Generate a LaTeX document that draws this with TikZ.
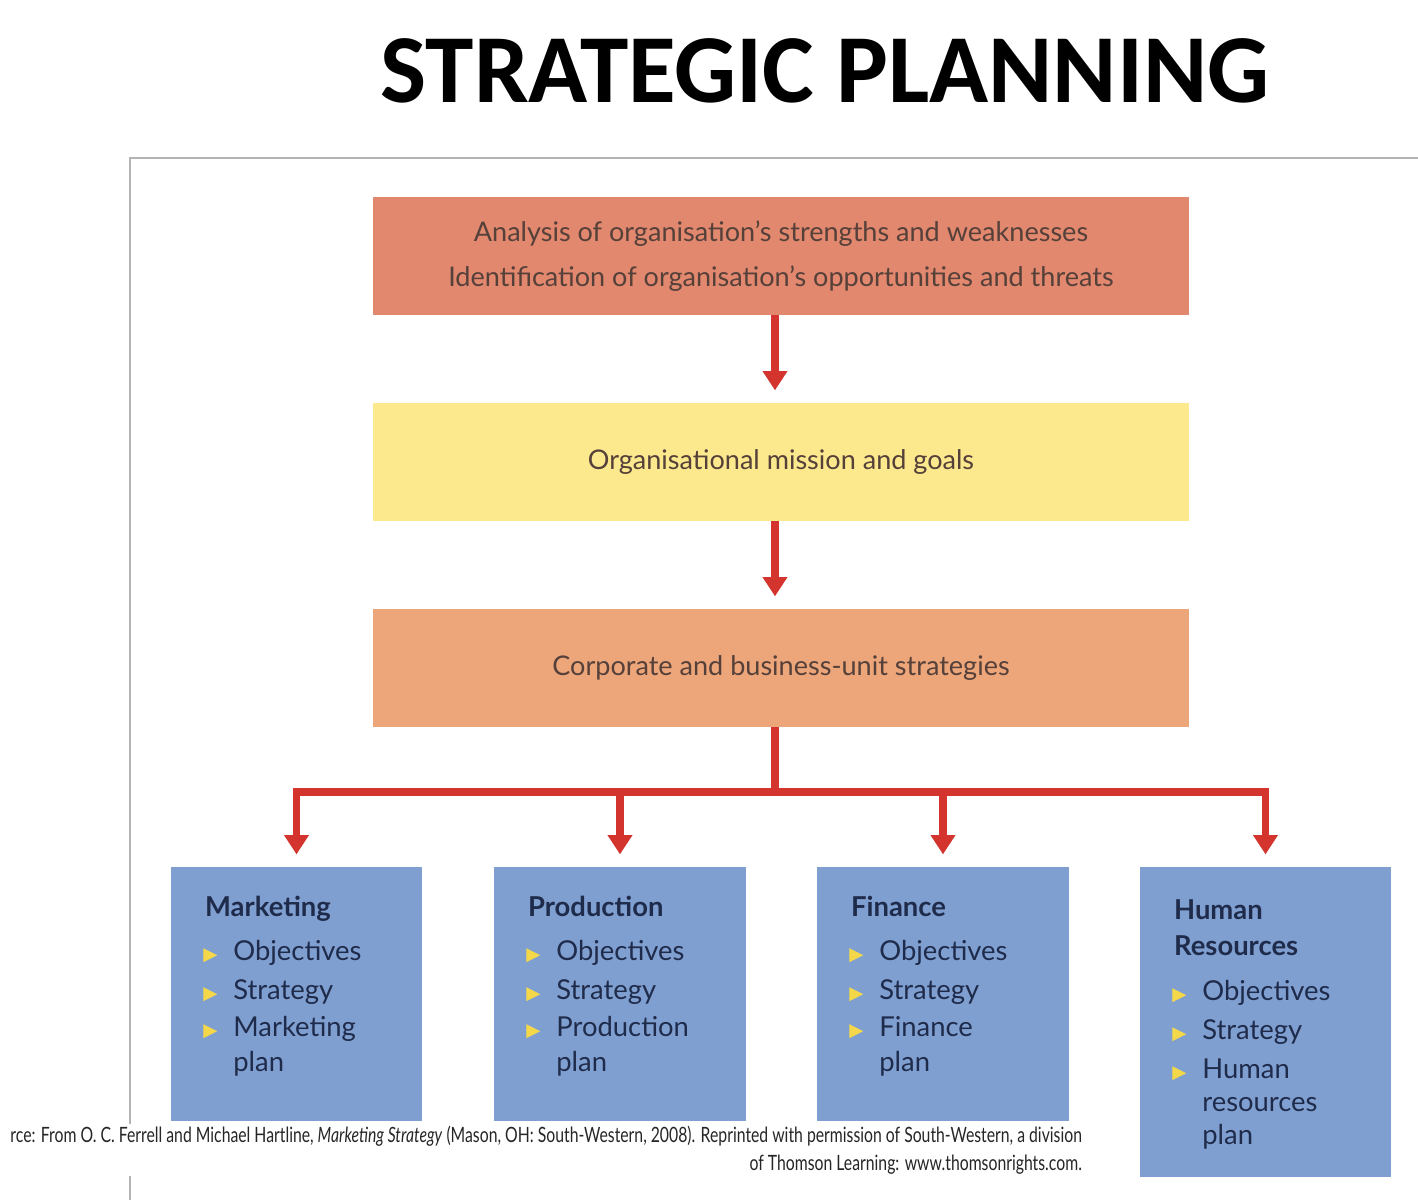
\documentclass[tikz,border=0pt]{standalone}
\usepackage{fontspec}
\setmainfont{Lato}
\newfontfamily\titlefont{Carlito}
\newfontfamily\symfont{DejaVu Sans}
\usetikzlibrary{arrows.meta}
\definecolor{boxsalmon}{HTML}{E2886E}
\definecolor{boxyellow}{HTML}{FCE98E}
\definecolor{boxorange}{HTML}{EDA57A}
\definecolor{boxblue}{HTML}{809FD1}
\definecolor{arrowred}{HTML}{D3352E}
\definecolor{toptext}{HTML}{55403A}
\definecolor{bluetext}{HTML}{1F2B4A}
\definecolor{bulyel}{HTML}{F4D84A}
\definecolor{framegray}{HTML}{B4B4B4}
\newcommand{\bul}{{\symfont\fontsize{10.5}{10}\selectfont\color{bulyel}▶}}
\begin{document}
\begin{tikzpicture}[x=0.02cm,y=-0.02cm,
  topbox/.style={minimum width=16.32cm, minimum height=2.36cm, inner sep=0pt, align=center,
    text=toptext, font=\fontsize{15.4}{26}\selectfont},
  bluebox/.style={fill=boxblue, minimum width=5.04cm, inner sep=0pt},
  bluetxt/.style={anchor=north west, inner sep=0pt, text=bluetext, font=\fontsize{15.6}{20}\selectfont},
  arr/.style={draw=arrowred, line width=4.5pt, -{Triangle[width=13.5pt,length=11pt]}, shorten >=7pt},
]
\useasboundingbox (0,0) rectangle (1418,1200);
\fill[white] (0,0) rectangle (1418,1200);
% frame
\draw[framegray, line width=1.2pt] (1418,158) -- (130,158) -- (130,1200);
% title
\node[anchor=base, inner sep=0pt] (title) at (825,102) {\titlefont\bfseries\fontsize{55.5}{60}\selectfont STRATEGIC PLANNING};
% top boxes
\node[topbox, fill=boxsalmon] (swot) at (781,256) {Analysis of organisation’s strengths and weaknesses\\Identification of organisation’s opportunities and threats};
\node[topbox, fill=boxyellow] (mission) at (781,462) {Organisational mission and goals};
\node[topbox, fill=boxorange] (strat) at (781,668) {Corporate and business-unit strategies};
\coordinate (ax) at (775,0);
\coordinate (hub) at (775,792);
\draw[arr] (swot.south -| ax) -- (mission.north -| ax);
\draw[arr] (mission.south -| ax) -- (strat.north -| ax);
% bottom boxes
\node[bluebox, minimum height=5.08cm] (mk) at (296.5,994) {};
\node[bluebox, minimum height=5.08cm] (pr) at (620,994) {};
\node[bluebox, minimum height=5.08cm] (fi) at (943,994) {};
\node[bluebox, minimum height=6.2cm] (hr) at (1265.5,1022) {};
\draw[arr] (strat.south -| ax) -- (hub) -| (mk.north);
\draw[arr] (strat.south -| ax) -- (hub) -| (pr.north);
\draw[arr] (strat.south -| ax) -- (hub) -| (fi.north);
\draw[arr] (strat.south -| ax) -- (hub) -| (hr.north);
% box texts
\node[bluetxt] (mkt) at (203,892) {\begin{tabular}{@{}l@{\hspace{9pt}}l@{}}
  \multicolumn{2}{@{}l}{\hspace{1pt}\bfseries Marketing}\\[5pt]
  \bul & Objectives\\[2pt] \bul & Strategy\\[1pt] \bul & Marketing\\ & plan\end{tabular}};
\node[bluetxt] (prt) at (526,892) {\begin{tabular}{@{}l@{\hspace{9pt}}l@{}}
  \multicolumn{2}{@{}l}{\hspace{1pt}\bfseries Production}\\[5pt]
  \bul & Objectives\\[2pt] \bul & Strategy\\[1pt] \bul & Production\\ & plan\end{tabular}};
\node[bluetxt] (fit) at (849,892) {\begin{tabular}{@{}l@{\hspace{9pt}}l@{}}
  \multicolumn{2}{@{}l}{\hspace{1pt}\bfseries Finance}\\[5pt]
  \bul & Objectives\\[2pt] \bul & Strategy\\[1pt] \bul & Finance\\ & plan\end{tabular}};
\node[bluetxt] (hrt) at (1172,895) {\begin{tabular}{@{}l@{\hspace{9pt}}l@{}}
  \multicolumn{2}{@{}l}{\hspace{1pt}\bfseries Human}\\
  \multicolumn{2}{@{}l}{\hspace{1pt}\bfseries Resources}\\[6pt]
  \bul & Objectives\\[2pt] \bul & Strategy\\[2pt] \bul & Human\\[-1pt] & resources\\[-1pt] & plan\end{tabular}};
% source
\node[fill=white, anchor=north east, inner sep=1pt, align=right, text=black!85,
  font=\fontsize{12}{16}\selectfont] (src) at (1084,1124)
  {\scalebox{0.748}[1]{rce: From O. C. Ferrell and Michael Hartline, \textit{Marketing Strategy} (Mason, OH: South-Western, 2008). Reprinted with permission of South-Western, a division}\\
   \scalebox{0.748}[1]{of Thomson Learning: www.thomsonrights.com.}};
\end{tikzpicture}
\end{document}
